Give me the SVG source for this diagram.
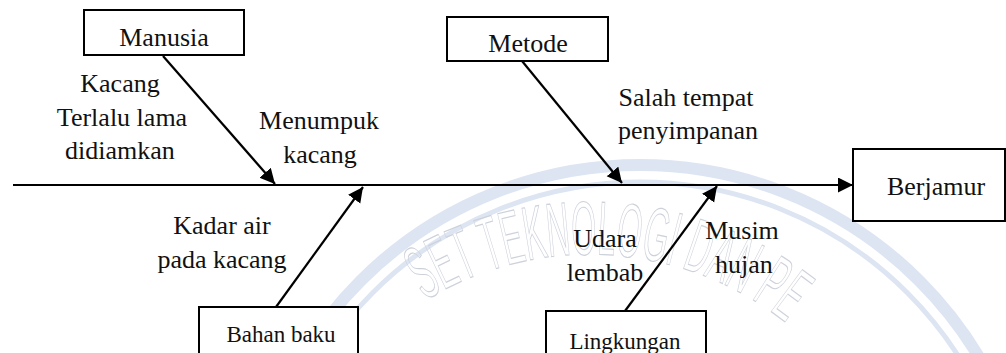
<svg xmlns="http://www.w3.org/2000/svg" width="1006" height="353" viewBox="0 0 1006 353">
<style>
.box{fill:#fff;stroke:#000;stroke-width:2}
.t{font-family:"Liberation Serif","Times New Roman",serif;font-size:26px;fill:#111;text-anchor:middle}
.s{font-size:23px}
.ln{stroke:#000;stroke-width:2.2;fill:none}
.wm{fill:none;stroke:#dde5f3}
.wt{font-family:"Liberation Sans",Arial,sans-serif;font-size:76px;fill:none;stroke:#cdd1da;stroke-width:1.2}
</style>
<defs>
<marker id="ah" markerUnits="userSpaceOnUse" markerWidth="16" markerHeight="16" refX="15" refY="7.5" orient="auto">
<path d="M0,0 L15,7.5 L0,15 Z" fill="#000"/>
</marker>
<path id="wpath" d="M 409,311 A 316 316 0 0 1 813,347"/>
</defs>
<g id="watermark">
<circle class="wm" cx="640" cy="560" r="395" stroke-width="12"/>
<circle class="wm" cx="640" cy="560" r="378" stroke-width="5"/>
<text class="wt"><textPath href="#wpath" startOffset="19" textLength="385" lengthAdjust="spacingAndGlyphs">SET TEKNOLOGI DAN PE</textPath></text>
</g>
<g id="connectors">
<line class="ln" x1="13" y1="185" x2="853" y2="185" marker-end="url(#ah)"/>
<line class="ln" x1="163" y1="56" x2="275" y2="184" marker-end="url(#ah)"/>
<line class="ln" x1="522" y1="61" x2="622" y2="183" marker-end="url(#ah)"/>
<line class="ln" x1="276" y1="307" x2="363" y2="187" marker-end="url(#ah)"/>
<line class="ln" x1="625" y1="311" x2="717" y2="186" marker-end="url(#ah)"/>
</g>
<g id="manusia">
<rect class="box" x="84" y="10" width="160" height="45"/>
<text class="t" x="164" y="46">Manusia</text>
</g>
<g id="metode">
<rect class="box" x="447" y="17" width="161" height="44"/>
<text class="t" x="528" y="52">Metode</text>
</g>
<g id="berjamur">
<rect class="box" x="853" y="149" width="152" height="72"/>
<text class="t" x="936" y="195">Berjamur</text>
</g>
<g id="bahan-baku">
<rect class="box" x="199" y="307" width="159" height="60"/>
<text class="t s" x="281" y="342">Bahan baku</text>
</g>
<g id="lingkungan">
<rect class="box" x="546" y="311" width="160" height="60"/>
<text class="t s" x="625" y="349">Lingkungan</text>
</g>
<g id="labels">
<text class="t" x="120" y="92">Kacang</text>
<text class="t" x="122" y="126">Terlalu lama</text>
<text class="t" x="120" y="159">didiamkan</text>
<text class="t" x="319" y="129">Menumpuk</text>
<text class="t" x="320" y="163">kacang</text>
<text class="t" x="686" y="106">Salah tempat</text>
<text class="t" x="688" y="139">penyimpanan</text>
<text class="t" x="222" y="234">Kadar air</text>
<text class="t" x="222" y="268">pada kacang</text>
<text class="t" x="605" y="247">Udara</text>
<text class="t" x="605" y="281">lembab</text>
<text class="t" x="742" y="239">Musim</text>
<text class="t" x="744" y="273">hujan</text>
</g>
</svg>
